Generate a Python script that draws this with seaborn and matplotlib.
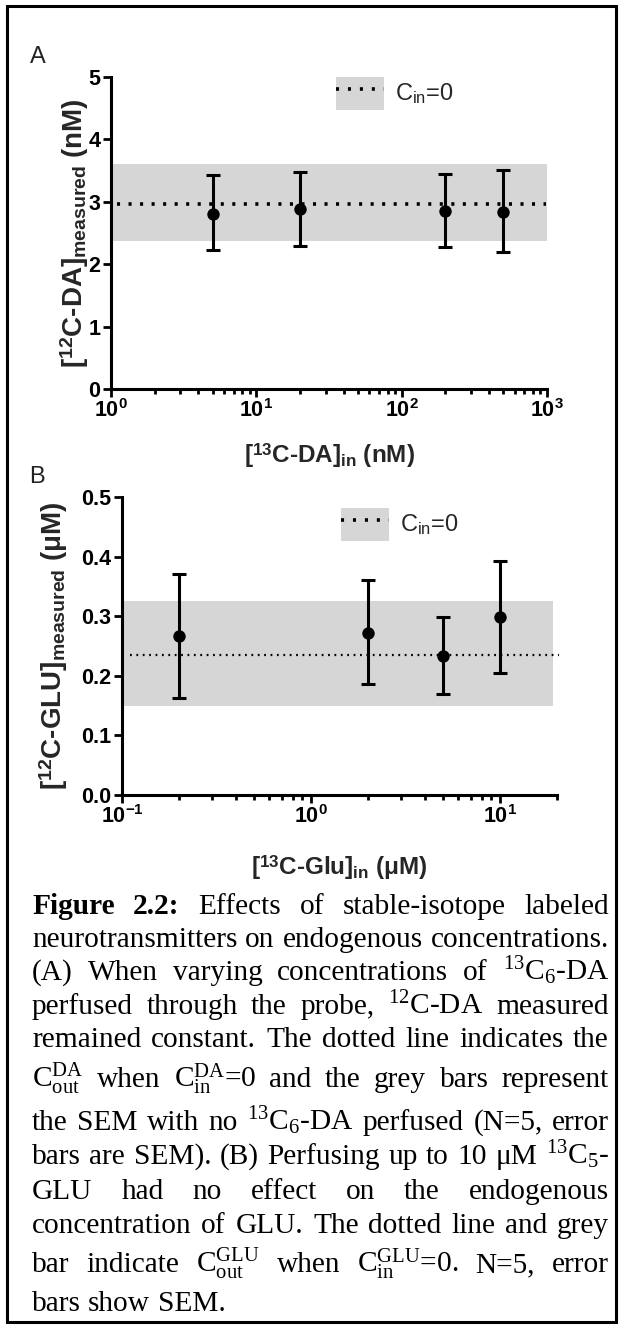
import numpy as np
import matplotlib
matplotlib.use("Agg")
import matplotlib.pyplot as plt
import seaborn as sns
from matplotlib import font_manager as fm
from matplotlib.patches import Patch, Rectangle
from matplotlib.lines import Line2D
from matplotlib.ticker import LogLocator, NullFormatter

# ---------------- data ----------------
# Panel A: 13C-DA perfused (nM) vs 12C-DA measured (nM)
da_in = [5, 20, 200, 500]
da_mean = [2.81, 2.88, 2.85, 2.83]
da_upper = [3.43, 3.48, 3.45, 3.51]
da_lower = [2.22, 2.29, 2.27, 2.19]
da_base = 2.96          # C_in = 0 mean
da_base_lo = 2.37       # mean - SEM
da_base_hi = 3.61       # mean + SEM
da_band_x = [1, 1000]
da_line_x = [1.1, 980]
da_xlim = [1, 1000]
da_ylim = [0, 5]
da_xticks = [1, 10, 100, 1000]
da_xticklabels = [r"$\mathbf{10^{0}}$", r"$\mathbf{10^{1}}$", r"$\mathbf{10^{2}}$", r"$\mathbf{10^{3}}$"]
da_yticks = [0, 1, 2, 3, 4, 5]
da_yticklabels = ["0", "1", "2", "3", "4", "5"]

# Panel B: 13C-Glu perfused (uM) vs 12C-GLU measured (uM)
glu_in = [0.2, 2, 5, 10]
glu_mean = [0.266, 0.271, 0.233, 0.298]
glu_upper = [0.370, 0.360, 0.299, 0.392]
glu_lower = [0.162, 0.186, 0.170, 0.204]
glu_base = 0.235
glu_base_lo = 0.149
glu_base_hi = 0.325
glu_band_x = [0.1, 19]
glu_line_x = [0.11, 20.5]
glu_xlim = [0.1, 20]
glu_ylim = [0, 0.5]
glu_xticks = [0.1, 1, 10]
glu_xticklabels = [r"$\mathbf{10^{-1}}$", r"$\mathbf{10^{0}}$", r"$\mathbf{10^{1}}$"]
glu_yticks = [0.0, 0.1, 0.2, 0.3, 0.4, 0.5]
glu_yticklabels = ["0.0", "0.1", "0.2", "0.3", "0.4", "0.5"]

legend_label = r"C$_{\mathsf{in}}$=0"

caption_lines = [
    "Figure 2.2: Effects of stable-isotope labeled",
    "neurotransmitters on endogenous concentrations.",
    r"(A) When varying concentrations of $^{\mathrm{13}}$C$_{\mathrm{6}}$-DA",
    r"perfused through the probe, $^{\mathrm{12}}$C-DA measured",
    "remained constant. The dotted line indicates the",
    r"$\mathrm{C}^{\mathrm{DA}}_{\mathrm{out}}$ when $\mathrm{C}^{\mathrm{DA}}_{\mathrm{in}}$=0 and the grey bars represent",
    r"the SEM with no $^{\mathrm{13}}$C$_{\mathrm{6}}$-DA perfused (N=5, error",
    r"bars are SEM). (B) Perfusing up to 10 μM $^{\mathrm{13}}$C$_{\mathrm{5}}$-",
    "GLU had no effect on the endogenous",
    "concentration of GLU. The dotted line and grey",
    r"bar indicate $\mathrm{C}^{\mathrm{GLU}}_{\mathrm{out}}$ when $\mathrm{C}^{\mathrm{GLU}}_{\mathrm{in}}$=0. N=5, error",
    "bars show SEM.",
]
caption_bold_words = 2

# ---------------- style ----------------
sns.set_theme(style="ticks")
names = {f.name for f in fm.fontManager.ttflist}
SANS = "Liberation Sans Narrow" if "Liberation Sans Narrow" in names else "Liberation Sans"
SERIF = "Liberation Serif"
plt.rcParams.update({
    "font.family": [SANS, "DejaVu Sans"],
    "mathtext.fontset": "custom",
    "mathtext.rm": SERIF,
    "mathtext.it": SERIF + ":italic",
    "mathtext.bf": SANS + ":bold",
    "mathtext.sf": SANS,
    "lines.scale_dashes": False,
    "axes.edgecolor": "black",
    "xtick.color": "black",
    "ytick.color": "black",
})

W, H = 624, 1328
fig = plt.figure(figsize=(W / 100, H / 100), dpi=100)
fig.patch.set_facecolor("white")

BAND = "#d6d6d6"
TICK_FS = 15.5
XLABEL_FS = 17.5
YLABEL_FS = 20


def px_axes(left, top, right, bottom):
    return fig.add_axes([left / W, 1 - bottom / H, (right - left) / W, (bottom - top) / H])


def draw_panel(ax, x, mean, lo, hi, base, blo, bhi, band_x, line_x, line_style, line_w,
               xlim, ylim, xticks, xticklabels, yticks, yticklabels):
    ax.set_xscale("log")
    ax.fill_between(band_x, [blo, blo], [bhi, bhi], color=BAND, lw=0, zorder=1)
    ax.plot(line_x, [base, base], color="black", lw=line_w, linestyle=line_style,
            zorder=2, clip_on=False)
    yerr = [np.array(mean) - np.array(lo), np.array(hi) - np.array(mean)]
    ax.errorbar(x, mean, yerr=yerr, fmt="none", ecolor="black", elinewidth=2.2,
                capsize=5, capthick=2.2, zorder=3)
    sns.scatterplot(x=x, y=mean, ax=ax, color="black", s=80, linewidth=0,
                    zorder=4, legend=False)
    ax.set_xlim(xlim)
    ax.set_ylim(ylim)
    ax.set_xticks(xticks)
    ax.set_xticklabels(xticklabels, fontsize=TICK_FS)
    ax.xaxis.set_minor_locator(LogLocator(base=10, subs=np.arange(2, 10)))
    ax.xaxis.set_minor_formatter(NullFormatter())
    ax.set_yticks(yticks)
    ax.set_yticklabels(yticklabels, fontsize=TICK_FS, fontweight="bold")
    sns.despine(ax=ax)
    for s in ("left", "bottom"):
        ax.spines[s].set_linewidth(2.2)
        ax.spines[s].set_color("black")
    ax.tick_params(axis="both", which="major", width=2, length=5.5, pad=2)
    ax.tick_params(axis="x", which="minor", width=2, length=3.5)
    ax.tick_params(axis="y", which="minor", left=False)
    ax.set_facecolor("none")
    ax.grid(False)


def add_legend(ax, x_px, y_px):
    patch = Patch(facecolor=BAND, edgecolor="none")
    line = Line2D([], [], color="black", lw=2.6, linestyle=(0, (2.2, 6.4)))
    ax.legend([(patch, line)], [legend_label], loc="upper left",
              bbox_to_anchor=(x_px / W, 1 - y_px / H), bbox_transform=fig.transFigure,
              frameon=False, prop={"family": SANS, "size": 17},
              handlelength=2.05, handleheight=1.75, handletextpad=0.45,
              borderpad=0, borderaxespad=0)


# ---------------- Panel A ----------------
axA = px_axes(111, 77, 547, 389)
draw_panel(axA, da_in, da_mean, da_lower, da_upper, da_base, da_base_lo, da_base_hi,
           da_band_x, da_line_x, (0, (2.2, 6.1)), 2.6, da_xlim, da_ylim,
           da_xticks, da_xticklabels, da_yticks, da_yticklabels)
axA.set_ylabel(r"[$^{\mathbf{12}}$C-DA]$_{\mathbf{measured}}$ (nM)", fontsize=YLABEL_FS,
               fontweight="bold")
axA.yaxis.set_label_coords(-0.046, 0.5)
axA.set_xlabel(r"[$^{\mathbf{13}}$C-DA]$_{\mathbf{in}}$ (nM)", fontsize=XLABEL_FS,
               fontweight="bold")
axA.xaxis.set_label_coords(0.502, -0.167)
add_legend(axA, 336, 77)

# ---------------- Panel B ----------------
axB = px_axes(122, 497, 557, 795)
draw_panel(axB, glu_in, glu_mean, glu_lower, glu_upper, glu_base, glu_base_lo, glu_base_hi,
           glu_band_x, glu_line_x, (0, (1.3, 3.3)), 1.6, glu_xlim, glu_ylim,
           glu_xticks, glu_xticklabels, glu_yticks, glu_yticklabels)
axB.set_ylabel(r"[$^{\mathbf{12}}$C-GLU]$_{\mathbf{measured}}$ (μM)", fontsize=YLABEL_FS,
               fontweight="bold")
axB.yaxis.set_label_coords(-0.12, 0.5)
axB.set_xlabel(r"[$^{\mathbf{13}}$C-Glu]$_{\mathbf{in}}$ (μM)", fontsize=XLABEL_FS,
               fontweight="bold")
axB.xaxis.set_label_coords(0.50, -0.195)
add_legend(axB, 341, 508)

# panel letters
fig.text(38 / W, 1 - 57 / H, "A", ha="center", va="center", fontsize=17,
         family="Liberation Sans", color="#222222")
fig.text(37 / W, 1 - 477 / H, "B", ha="center", va="center", fontsize=17,
         family="Liberation Sans", color="#222222")

# ---------------- caption (justified) ----------------
CAP_FS = 21.2
cap_left, cap_right = 32, 609
cap_centers = [905, 938, 971, 1005, 1038, 1078, 1121, 1155, 1190, 1224, 1263, 1302]
renderer = fig.canvas.get_renderer()
word_count = 0
for i, (line, yc) in enumerate(zip(caption_lines, cap_centers)):
    words = line.split(" ")
    texts = []
    for w in words:
        weight = "bold" if word_count < caption_bold_words else "normal"
        word_count += 1
        t = fig.text(0, 1 - (yc + 9) / H, w, ha="left", va="baseline",
                     fontsize=CAP_FS, family=SERIF, fontweight=weight, color="black")
        texts.append(t)
    widths = [t.get_window_extent(renderer).width for t in texts]
    if i < len(caption_lines) - 1 and len(texts) > 1:
        gap = ((cap_right - cap_left) - sum(widths)) / (len(texts) - 1)
    else:
        gap = 0.25 * CAP_FS * 100 / 72
    xpos = cap_left
    for t, wd in zip(texts, widths):
        t.set_x(xpos / W)
        xpos += wd + gap

# outer frame
fig.patches.append(Rectangle((7 / W, 1 - 1322 / H), (616 - 7) / W, (1322 - 6) / H,
                             transform=fig.transFigure, fill=False, lw=2.2,
                             edgecolor="black"))

fig.savefig("out.png", dpi=100)
